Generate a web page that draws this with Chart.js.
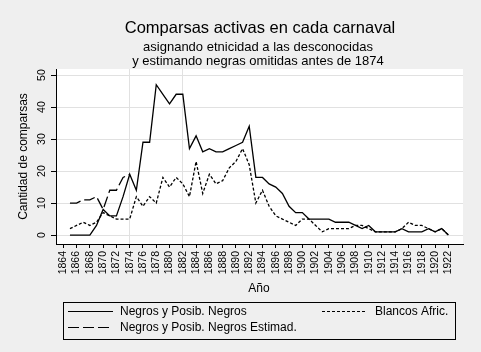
<!DOCTYPE html>
<html>
<head>
<meta charset="utf-8">
<script src="https://cdn.jsdelivr.net/npm/chart.js@4.4.0/dist/chart.umd.min.js"></script>
<style>
    body { margin: 0; background: #efefef; }
    #caja { width: 481px; height: 352px; }
</style>
</head>
<body>
<div id="caja"><canvas id="grafico_comparsas" width="481" height="352"></canvas></div>
<script>
//años de cada carnaval
const anos = [
    1864, 1865, 1866, 1867, 1868, 1869, 1870, 1871, 1872, 1873,
    1874, 1875, 1876, 1877, 1878, 1879, 1880, 1881, 1882, 1883,
    1884, 1885, 1886, 1887, 1888, 1889, 1890, 1891, 1892, 1893,
    1894, 1895, 1896, 1897, 1898, 1899, 1900, 1901, 1902, 1903,
    1904, 1905, 1906, 1907, 1908, 1909, 1910, 1911, 1912, 1913,
    1914, 1915, 1916, 1917, 1918, 1919, 1920, 1921, 1922,
];

const negros = [
    null, 0, 0, 0, 0, 3, 8, 6, 6, 12,
    19, 14, 29, 29, 47, 44, 41, 44, 44, 27,
    31, 26, 27, 26, 26, 27, 28, 29, 34, 18,
    18, 16, 15, 13, 9, 7, 7, 5, 5, 5,
    5, 4, 4, 4, 3, 2, 3, 1, 1, 1,
    1, 2, 1, 1, 1, 2, 1, 2, 0,
];

//! solo antes de 1874 (después coincide con negros)
const negros_estimad = [
    null, 10, 10, 11, 11, 12, 8, 14, 14, 18,
    19, null, null, null, null, null, null, null, null, null,
    null, null, null, null, null, null, null, null, null, null,
    null, null, null, null, null, null, null, null, null, null,
    null, null, null, null, null, null, null, null, null, null,
    null, null, null, null, null, null, null, null, null,
];

const blancos_afric = [
    null, 2, 3, 4, 3, 4, 7, 6, 5, 5,
    5, 12, 9, 12, 10, 18, 15, 18, 16, 12,
    23, 13, 19, 16, 17, 21, 23, 27, 22, 10,
    14, 9, 6, 5, 4, 3, 5, 5, 3, 1,
    2, 2, 2, 2, 3, 3, 2, 1, 1, 1,
    1, 2, 4, 3, 3, 2, 1, 2, 0,
];

const ticks_x = [
    1864, 1866, 1868, 1870, 1872, 1874, 1876, 1878, 1880, 1882,
    1884, 1886, 1888, 1890, 1892, 1894, 1896, 1898, 1900, 1902,
    1904, 1906, 1908, 1910, 1912, 1914, 1916, 1918, 1920, 1922,
];
const ticks_y = [0, 10, 20, 30, 40, 50];
const lineas_x = [1874, 1882];

const pares = (serie) => anos.map((ano, i) => ({ x: ano, y: serie[i] }));

const fuente = '"Liberation Sans", Arial, sans-serif';
Chart.defaults.font.family = fuente;
Chart.defaults.color = "#000";

// fondo blanco del área del gráfico + textos al estilo Stata
const estilo_stata = {
    id: "estilo_stata",
    beforeDraw(chart) {
        const { ctx, chartArea: a } = chart;
        ctx.save();
        ctx.fillStyle = "#efefef";
        ctx.fillRect(0, 0, chart.width, chart.height);
        ctx.fillStyle = "#ffffff";
        ctx.fillRect(a.left, a.top, a.right - a.left, a.bottom - a.top);
        ctx.restore();
    },
    afterDraw(chart) {
        const { ctx } = chart;
        const y = chart.scales.y;
        ctx.save();
        ctx.fillStyle = "#000";

        // títulos
        ctx.textAlign = "center";
        ctx.textBaseline = "alphabetic";
        ctx.font = "16.5px " + fuente;
        ctx.fillText("Comparsas activas en cada carnaval", 260, 33);
        ctx.font = "13px " + fuente;
        ctx.fillText("asignando etnicidad a las desconocidas", 258, 51);
        ctx.fillText("y estimando negras omitidas antes de 1874", 258, 64.5);

        // etiquetas del eje y (giradas)
        ctx.font = "10.5px " + fuente;
        ctx.textBaseline = "middle";
        ticks_y.forEach((v) => {
            ctx.save();
            ctx.translate(42, y.getPixelForValue(v));
            ctx.rotate(-Math.PI / 2);
            ctx.fillText(String(v), 0, 0);
            ctx.restore();
        });

        // títulos de ejes
        ctx.font = "12px " + fuente;
        ctx.save();
        ctx.translate(24, (chart.chartArea.top + chart.chartArea.bottom) / 2);
        ctx.rotate(-Math.PI / 2);
        ctx.fillText("Cantidad de comparsas", 0, 0);
        ctx.restore();
        ctx.fillText("Año", 259, 289);

        // leyenda
        ctx.strokeStyle = "#000";
        ctx.lineWidth = 1;
        ctx.strokeRect(63.5, 302.5, 392, 37);
        const muestra = (x1, x2, yy, dash) => {
            ctx.beginPath();
            ctx.setLineDash(dash);
            ctx.moveTo(x1, yy + 0.5);
            ctx.lineTo(x2, yy + 0.5);
            ctx.stroke();
            ctx.setLineDash([]);
        };
        ctx.textAlign = "left";
        ctx.font = "12px " + fuente;
        muestra(68, 113, 311, []);
        ctx.fillText("Negros y Posib. Negros", 120, 311.5);
        muestra(68, 113, 327, [11, 4]);
        ctx.fillText("Negros y Posib. Negros Estimad.", 120, 327.5);
        muestra(322, 366, 311, [3, 2]);
        ctx.fillText("Blancos Afric.", 375, 311.5);
        ctx.restore();
    },
};

new Chart("grafico_comparsas", {
    type: "line",
    data: {
        datasets: [
            {
                label: "Negros y Posib. Negros",
                data: pares(negros),
                borderColor: "#000",
                borderWidth: 1.3,
            },
            {
                label: "Negros y Posib. Negros Estimad.",
                data: pares(negros_estimad),
                borderColor: "#000",
                borderWidth: 1.3,
                borderDash: [11, 4],
            },
            {
                label: "Blancos Afric.",
                data: pares(blancos_afric),
                borderColor: "#000",
                borderWidth: 1.3,
                borderDash: [3, 2],
            },
        ],
    },
    options: {
        responsive: false,
        animation: false,
        devicePixelRatio: 1,
        elements: {
            point: { radius: 0 },
            line: { tension: 0, fill: false },
        },
        layout: { padding: { top: 69, right: 18, left: 0, bottom: 0 } },
        plugins: {
            legend: { display: false },
            title: { display: false },
            tooltip: { enabled: false },
        },
        scales: {
            x: {
                type: "linear",
                min: 1862.9,
                max: 1924.2,
                afterBuildTicks: (scale) => {
                    scale.ticks = ticks_x.map((v) => ({ value: v }));
                },
                afterFit: (scale) => {
                    scale.height = 108;
                },
                ticks: {
                    autoSkip: false,
                    minRotation: 90,
                    maxRotation: 90,
                    padding: 3,
                    font: { size: 10.5 },
                    color: "#000",
                    callback: (value) => String(value),
                },
                grid: {
                    color: (ctx) =>
                        ctx.tick && lineas_x.includes(ctx.tick.value)
                            ? "#e1e1e1"
                            : "rgba(0,0,0,0)",
                    tickColor: "#000",
                    tickLength: 4,
                },
                border: { color: "#000", width: 1 },
            },
            y: {
                min: -2.8,
                max: 51.9,
                afterBuildTicks: (scale) => {
                    scale.ticks = ticks_y.map((v) => ({ value: v }));
                },
                afterFit: (scale) => {
                    scale.width = 56;
                },
                ticks: { display: false },
                grid: {
                    color: "#e1e1e1",
                    tickColor: "#000",
                    tickLength: 5,
                },
                border: { color: "#000", width: 1 },
            },
        },
    },
    plugins: [estilo_stata],
});
</script>
</body>
</html>
